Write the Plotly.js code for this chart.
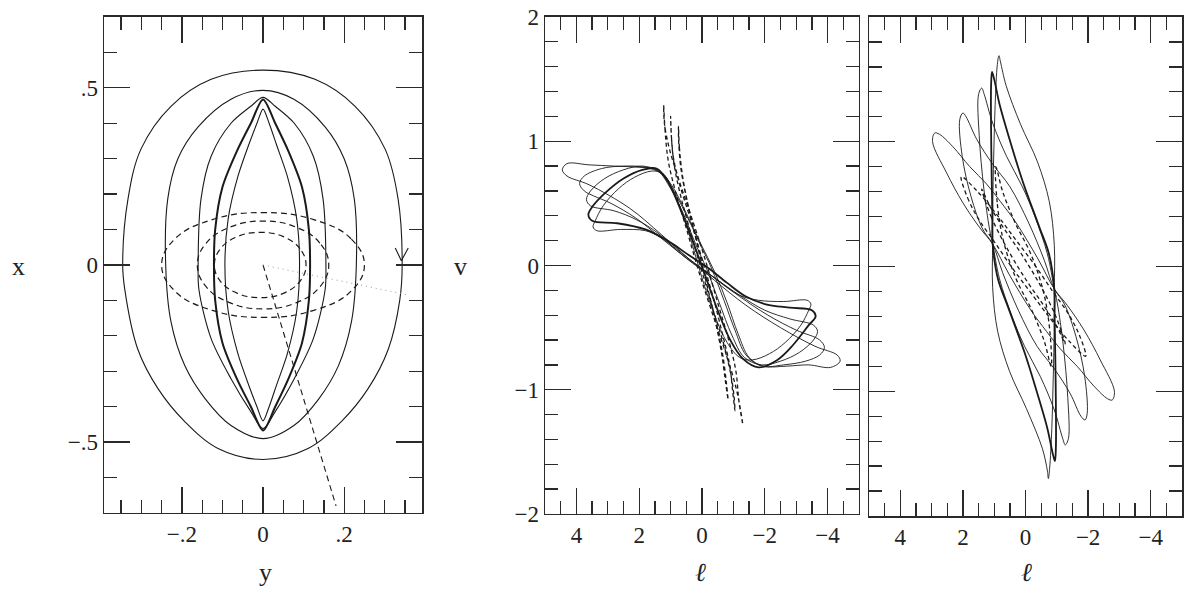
<!DOCTYPE html>
<html>
<head>
<meta charset="utf-8">
<script src="https://cdn.plot.ly/plotly-3.0.1.min.js"></script>
<style>html,body{margin:0;padding:0;background:#fff;}#chart{width:1200px;height:594px;}</style>
</head>
<body>
<div id="chart"></div>
<script>
// ---------- Left panel: orbits in the (y, x) plane ----------
const leftHTickVals = [-0.2, 0, 0.2];
const leftHTickText = ['\u2212.2', '0', '.2'];
const leftVTickVals = [-0.5, 0, 0.5];
const leftVTickText = ['\u2212.5', '0', '.5'];

// x1 orbits (solid)
const x1OuterH = [0, 0.128, 0.227, 0.301, 0.333, 0.343, 0.337, 0.309, 0.259, 0.193, 0.111, 0, -0.111, -0.193, -0.259, -0.309, -0.341, -0.346, -0.333, -0.301, -0.227, -0.128, 0];
const x1OuterV = [0.55, 0.524, 0.448, 0.327, 0.186, 0.0, -0.1, -0.237, -0.349, -0.442, -0.518, -0.549, -0.518, -0.442, -0.349, -0.237, -0.068, 0.0, 0.186, 0.327, 0.448, 0.524, 0.55];
const x1SecondH = [0, -0.079, -0.16, -0.21, -0.235, -0.24, -0.227, -0.193, -0.143, -0.079, 0, 0.076, 0.138, 0.186, 0.218, 0.23, 0.225, 0.2, 0.153, 0.076, 0];
const x1SecondV = [0.493, 0.468, 0.39, 0.30, 0.186, 0, -0.16, -0.284, -0.377, -0.453, -0.49, -0.453, -0.377, -0.284, -0.16, 0, 0.186, 0.30, 0.39, 0.468, 0.493];
const x1ThirdH = [0, -0.03, -0.079, -0.128, -0.153, -0.16, -0.158, -0.128, -0.079, -0.03, 0, 0.03, 0.077, 0.124, 0.153, 0.155, 0.148, 0.124, 0.077, 0.03, 0];
const x1ThirdV = [0.473, 0.448, 0.40, 0.307, 0.186, 0, -0.07, -0.208, -0.321, -0.414, -0.462, -0.414, -0.321, -0.208, -0.07, 0, 0.186, 0.307, 0.40, 0.448, 0.473];
const x1CuspH = [0, -0.03, -0.065, -0.1, -0.118, -0.121, -0.118, -0.1, -0.065, -0.03, 0, 0.03, 0.063, 0.096, 0.113, 0.116, 0.113, 0.096, 0.063, 0.03, 0];
const x1CuspV = [0.467, 0.40, 0.32, 0.22, 0.1, 0, -0.1, -0.22, -0.32, -0.40, -0.467, -0.40, -0.32, -0.22, -0.1, 0, 0.1, 0.22, 0.32, 0.40, 0.467];
const x1InnerH = [0, -0.015, -0.035, -0.062, -0.086, -0.094, -0.086, -0.062, -0.035, -0.015, 0, 0.015, 0.033, 0.06, 0.083, 0.09, 0.083, 0.06, 0.033, 0.015, 0];
const x1InnerV = [0.44, 0.40, 0.34, 0.25, 0.13, 0, -0.13, -0.25, -0.34, -0.40, -0.44, -0.40, -0.34, -0.25, -0.13, 0, 0.13, 0.25, 0.34, 0.40, 0.44];
const arrowH = [0.326, 0.341, 0.358];
const arrowV = [0.048, 0.012, 0.048];

// x2 orbits (dashed)
const x2OuterH = [0.25, 0.217, 0.125, 0, -0.125, -0.217, -0.25, -0.217, -0.125, 0, 0.125, 0.217, 0.25];
const x2OuterV = [0, 0.074, 0.128, 0.148, 0.128, 0.074, 0, -0.074, -0.128, -0.148, -0.128, -0.074, 0];
const x2MidH = [0.162, 0.140, 0.081, 0, -0.081, -0.140, -0.162, -0.140, -0.081, 0, 0.081, 0.140, 0.162];
const x2MidV = [0, 0.062, 0.107, 0.124, 0.107, 0.062, 0, -0.062, -0.107, -0.124, -0.107, -0.062, 0];
const x2InnerH = [0.106, 0.091, 0.05, -0.007, -0.063, -0.105, -0.12, -0.105, -0.063, -0.007, 0.05, 0.091, 0.106];
const x2InnerV = [0, 0.046, 0.08, 0.092, 0.08, 0.046, 0, -0.046, -0.08, -0.092, -0.08, -0.046, 0];

// lines of sight
const sightH = [0, 0.18];
const sightV = [0, -0.68];
const dottedH = [0, 0.36];
const dottedV = [0, -0.085];

// ---------- Middle & right panels: (l, v) ----------
const lTickVals = [4, 2, 0, -2, -4];
const lTickText = ['4', '2', '0', '\u22122', '\u22124'];
const vTickVals = [-2, -1, 0, 1, 2];
const vTickText = ['\u22122', '\u22121', '0', '1', '2'];

// middle panel: x1 orbits
const midAL = [4.3, 4.45, 4.3, 3.6, 2.8, 2.0, 1.4, 0.95, 0.5, 0.05, -0.4, -0.8, -1.15, -1.5, -1.95, -2.7, -3.4, -4.1, -4.4, -4.3, -3.6, -2.5, -1.4, -0.4, 0.4, 1.3, 2.3, 3.6, 4.3];
const midAV = [0.72, 0.77, 0.82, 0.81, 0.80, 0.79, 0.77, 0.64, 0.42, 0.18, -0.05, -0.3, -0.55, -0.74, -0.81, -0.81, -0.80, -0.82, -0.77, -0.72, -0.65, -0.5, -0.32, -0.12, 0.05, 0.25, 0.46, 0.65, 0.72];
const midBL = [3.75, 3.9, 3.75, 3.2, 2.5, 1.8, 1.3, 0.9, 0.45, 0.0, -0.3, -0.7, -1.05, -1.4, -1.9, -2.6, -3.3, -3.75, -3.9, -3.75, -3.0, -2.1, -1.2, -0.3, 0.5, 1.3, 2.1, 2.9, 3.45, 3.75];
const midBV = [0.6, 0.66, 0.72, 0.78, 0.80, 0.79, 0.74, 0.6, 0.38, 0.14, -0.02, -0.28, -0.52, -0.72, -0.81, -0.80, -0.77, -0.72, -0.66, -0.6, -0.52, -0.40, -0.25, -0.08, 0.06, 0.22, 0.38, 0.50, 0.56, 0.6];
const midCL = [3.55, 3.68, 3.55, 3.1, 2.5, 1.9, 1.4, 1.0, 0.6, 0.2, -0.15, -0.55, -0.95, -1.35, -1.9, -2.5, -3.1, -3.55, -3.68, -3.55, -2.8, -2.0, -1.2, -0.4, 0.2, 0.8, 1.4, 2.1, 2.8, 3.55];
const midCV = [0.48, 0.53, 0.6, 0.7, 0.77, 0.80, 0.76, 0.62, 0.42, 0.17, -0.03, -0.3, -0.56, -0.74, -0.80, -0.77, -0.7, -0.6, -0.53, -0.48, -0.43, -0.36, -0.24, -0.1, 0, 0.12, 0.26, 0.37, 0.44, 0.48];
const midDL = [3.5, 3.62, 3.5, 3.1, 2.5, 1.9, 1.45, 1.1, 0.7, 0.3, -0.1, -0.5, -0.9, -1.3, -1.8, -2.4, -2.9, -3.4, -3.62, -3.5, -2.8, -2.0, -1.4, -0.8, -0.2, 0.4, 1.1, 1.8, 2.7, 3.5];
const midDV = [0.36, 0.41, 0.47, 0.58, 0.70, 0.77, 0.78, 0.68, 0.46, 0.2, -0.08, -0.36, -0.6, -0.75, -0.82, -0.76, -0.64, -0.48, -0.41, -0.36, -0.34, -0.31, -0.25, -0.14, -0.02, 0.08, 0.2, 0.29, 0.34, 0.36];
const midEL = [3.35, 3.47, 3.4, 3.15, 2.65, 2.15, 1.6, 1.25, 0.95, 0.6, 0.3, 0.0, -0.4, -0.8, -1.2, -1.6, -2.15, -2.65, -3.15, -3.4, -3.47, -3.35, -2.6, -1.8, -1.2, -0.7, -0.2, 0.4, 0.9, 1.35, 1.8, 2.6, 3.35];
const midEV = [0.28, 0.31, 0.36, 0.48, 0.62, 0.71, 0.76, 0.74, 0.62, 0.4, 0.16, -0.1, -0.4, -0.62, -0.74, -0.76, -0.71, -0.62, -0.48, -0.36, -0.31, -0.28, -0.29, -0.28, -0.24, -0.16, -0.06, 0.05, 0.15, 0.23, 0.28, 0.29, 0.28];

// middle panel: x2 orbits (dashed)
const midD1L = [1.22, 1.18, 1.08, 0.85, 0.5, 0.1, -0.35, -0.75, -1.05, -1.22, -1.3, -1.18, -1.08, -0.85, -0.5, -0.1, 0.35, 0.75, 1.05, 1.2, 1.22];
const midD1V = [1.29, 1.1, 0.85, 0.6, 0.3, -0.05, -0.4, -0.7, -0.95, -1.15, -1.28, -1.1, -0.85, -0.6, -0.3, 0.05, 0.4, 0.7, 0.95, 1.15, 1.29];
const midD2L = [1.0, 0.97, 0.88, 0.68, 0.38, 0.0, -0.38, -0.7, -0.92, -1.02, -1.05, -0.98, -0.88, -0.66, -0.36, 0.02, 0.4, 0.72, 0.93, 1.0];
const midD2V = [1.2, 1.02, 0.8, 0.56, 0.28, -0.05, -0.38, -0.64, -0.88, -1.05, -1.17, -1.02, -0.8, -0.56, -0.26, 0.07, 0.4, 0.66, 0.9, 1.2];
const midD3L = [0.75, 0.72, 0.62, 0.42, 0.15, -0.15, -0.45, -0.66, -0.78, -0.83, -0.74, -0.62, -0.4, -0.12, 0.18, 0.46, 0.66, 0.74, 0.75];
const midD3V = [1.12, 0.95, 0.72, 0.46, 0.18, -0.15, -0.46, -0.72, -0.95, -1.08, -0.92, -0.7, -0.42, -0.12, 0.2, 0.5, 0.76, 0.98, 1.12];

// right panel: x1 orbits
const rightAL = [0.85, 0.90, 0.97, 1.01, 1.04, 1.05, 1.05, 0.89, 0.51, -0.03, -0.54, -0.7, -0.73, -0.77, -0.84, -0.88, -0.91, -0.92, -0.92, -0.76, -0.38, 0.16, 0.62, 0.8, 0.85];
const rightAV = [1.69, 1.62, 1.3, 0.95, 0.6, 0.18, -0.17, -0.52, -0.84, -1.14, -1.46, -1.64, -1.70, -1.62, -1.3, -0.95, -0.6, -0.18, 0.17, 0.52, 0.84, 1.14, 1.45, 1.64, 1.69];
const rightBL = [1.07, 1.1, 1.1, 1.08, 1.06, 1.05, 0.88, 0.58, 0.03, -0.38, -0.70, -0.87, -0.94, -0.97, -0.97, -0.95, -0.93, -0.92, -0.75, -0.45, 0.1, 0.51, 0.83, 1.0, 1.07];
const rightBV = [1.56, 1.45, 1.1, 0.7, 0.4, 0.18, -0.1, -0.31, -0.69, -1.02, -1.3, -1.5, -1.56, -1.45, -1.1, -0.7, -0.4, -0.18, 0.1, 0.31, 0.69, 1.02, 1.3, 1.5, 1.56];
const rightCL = [1.4, 1.5, 1.48, 1.33, 1.15, 1.05, 0.83, 0.43, 0.03, -0.47, -0.92, -1.19, -1.27, -1.37, -1.35, -1.2, -1.02, -0.92, -0.7, -0.3, 0.1, 0.6, 1.05, 1.32, 1.4];
const rightCV = [1.43, 1.38, 1.05, 0.62, 0.3, 0.18, -0.1, -0.4, -0.64, -0.88, -1.15, -1.38, -1.43, -1.38, -1.05, -0.62, -0.3, -0.18, 0.1, 0.4, 0.64, 0.88, 1.15, 1.38, 1.43];
const rightDL = [2.0, 2.1, 2.02, 1.74, 1.37, 1.05, 0.73, 0.23, -0.37, -0.92, -1.43, -1.77, -1.9, -1.97, -1.89, -1.61, -1.24, -0.92, -0.6, -0.1, 0.5, 1.05, 1.56, 1.9, 2.0];
const rightDV = [1.23, 1.18, 0.88, 0.56, 0.3, 0.18, -0.05, -0.35, -0.64, -0.82, -1.02, -1.2, -1.23, -1.18, -0.88, -0.56, -0.3, -0.18, 0.05, 0.35, 0.64, 0.82, 1.02, 1.2, 1.23];
const rightEL = [2.9, 2.97, 2.52, 2.0, 1.46, 1.05, 0.53, -0.17, -0.67, -1.11, -1.65, -2.19, -2.62, -2.77, -2.84, -2.39, -1.87, -1.33, -0.92, -0.4, 0.3, 0.8, 1.24, 1.78, 2.32, 2.75, 2.9];
const rightEV = [1.07, 1.0, 0.75, 0.51, 0.31, 0.18, -0.06, -0.35, -0.52, -0.66, -0.8, -0.96, -1.06, -1.07, -1.0, -0.75, -0.51, -0.31, -0.18, 0.06, 0.35, 0.52, 0.66, 0.8, 0.96, 1.06, 1.07];

// right panel: x2 orbits (dashed)
const rightD1L = [2.05, 1.85, 1.5, 1.0, 0.4, -0.2, -0.8, -1.4, -1.92, -1.72, -1.37, -0.87, -0.27, 0.33, 0.93, 1.53, 2.05];
const rightD1V = [0.72, 0.55, 0.38, 0.2, -0.02, -0.22, -0.42, -0.6, -0.72, -0.55, -0.38, -0.2, 0.02, 0.22, 0.42, 0.6, 0.72];
const rightD2L = [0.95, 0.9, 0.7, 0.3, -0.2, -0.6, -0.82, -0.77, -0.57, -0.17, 0.33, 0.73, 0.95];
const rightD2V = [0.8, 0.5, 0.2, -0.1, -0.35, -0.6, -0.8, -0.5, -0.2, 0.1, 0.35, 0.6, 0.8];
const rightD3L = [1.4, 1.1, 0.6, 0.0, -0.6, -1.0, -1.27, -0.97, -0.47, 0.13, 0.73, 1.13, 1.4];
const rightD3V = [0.62, 0.4, 0.15, -0.1, -0.32, -0.48, -0.62, -0.4, -0.15, 0.1, 0.32, 0.48, 0.62];

// ---------- build traces ----------
const INK = '#1a1a1a';
function curve(x, y, ax, width, dash, smooth, color) {
  return {
    type: 'scatter', mode: 'lines', x: x, y: y,
    xaxis: ax[0], yaxis: ax[1], hoverinfo: 'skip',
    line: {color: color || INK, width: width, dash: dash || 'solid',
           shape: smooth ? 'spline' : 'linear', smoothing: smooth || 0}
  };
}
const L = ['x', 'y'], M = ['x2', 'y2'], R = ['x3', 'y3'];
const DASH_L = '6px,4px', DASH_S = '4px,3px';

const traces = [
  curve(x1OuterH, x1OuterV, L, 1.1, null, 1),
  curve(x1SecondH, x1SecondV, L, 1.1, null, 1),
  curve(x1ThirdH, x1ThirdV, L, 1.1, null, 0.9),
  curve(x1CuspH, x1CuspV, L, 2.0, null, 0.8),
  curve(x1InnerH, x1InnerV, L, 1.1, null, 0.8),
  curve(arrowH, arrowV, L, 1.1, null, 0),
  curve(x2OuterH, x2OuterV, L, 1.2, DASH_L, 1.2),
  curve(x2MidH, x2MidV, L, 1.2, DASH_L, 1.2),
  curve(x2InnerH, x2InnerV, L, 1.2, DASH_L, 1.2),
  curve(sightH, sightV, L, 1.1, DASH_L, 0),
  curve(dottedH, dottedV, L, 1.0, '1px,4px', 0, '#9a9a9a'),

  curve(midAL, midAV, M, 0.9, null, 1),
  curve(midBL, midBV, M, 0.9, null, 1),
  curve(midCL, midCV, M, 0.9, null, 1),
  curve(midDL, midDV, M, 1.8, null, 1),
  curve(midEL, midEV, M, 0.9, null, 1),
  curve(midD1L, midD1V, M, 1.3, DASH_S, 1),
  curve(midD2L, midD2V, M, 1.3, DASH_S, 1),
  curve(midD3L, midD3V, M, 1.3, DASH_S, 1),

  curve(rightAL, rightAV, R, 0.9, null, 1),
  curve(rightBL, rightBV, R, 1.8, null, 1),
  curve(rightCL, rightCV, R, 0.9, null, 1),
  curve(rightDL, rightDV, R, 0.9, null, 1),
  curve(rightEL, rightEV, R, 0.9, null, 1),
  curve(rightD1L, rightD1V, R, 1.3, DASH_S, 1),
  curve(rightD2L, rightD2V, R, 1.3, DASH_S, 1),
  curve(rightD3L, rightD3V, R, 1.3, DASH_S, 1)
];

// ---------- layout ----------
const FONT = 'Liberation Serif, DejaVu Serif, serif';
function axis(extra, minorDtick) {
  return Object.assign({
    showline: true, linecolor: '#2a2a2a', linewidth: 1.5, mirror: 'ticks',
    ticks: 'inside', ticklen: 26, tickwidth: 1.3, tickcolor: '#2a2a2a',
    zeroline: false, showgrid: false, fixedrange: true,
    tickfont: {family: FONT, size: 23, color: '#222'},
    minor: {ticks: 'inside', ticklen: 13, tickwidth: 1.3, tickcolor: '#2a2a2a',
            showgrid: false, tickmode: 'linear', tick0: 0, dtick: minorDtick}
  }, extra);
}

const layout = {
  width: 1200, height: 594,
  margin: {l: 0, r: 0, t: 0, b: 0},
  paper_bgcolor: '#fff', plot_bgcolor: '#fff',
  showlegend: false,
  xaxis: axis({domain: [0.0867, 0.3517], range: [-0.392, 0.392], anchor: 'y',
               tickmode: 'array', tickvals: leftHTickVals, ticktext: leftHTickText}, 0.05),
  yaxis: axis({domain: [0.1364, 0.9714], range: [-0.7, 0.7], anchor: 'x',
               tickmode: 'array', tickvals: leftVTickVals, ticktext: leftVTickText}, 0.1),
  xaxis2: axis({domain: [0.4542, 0.7158], range: [5, -5], anchor: 'y2',
                tickmode: 'array', tickvals: lTickVals, ticktext: lTickText}, 0.5),
  yaxis2: axis({domain: [0.1347, 0.9714], range: [-2, 2], anchor: 'x2',
                tickmode: 'array', tickvals: vTickVals, ticktext: vTickText}, 0.2),
  xaxis3: axis({domain: [0.7242, 0.985], range: [5, -5], anchor: 'y3',
                tickmode: 'array', tickvals: lTickVals, ticktext: lTickText}, 0.5),
  yaxis3: axis({domain: [0.1313, 0.9714], range: [-2, 2], anchor: 'x3',
                tickmode: 'array', tickvals: vTickVals, ticktext: vTickText,
                showticklabels: false}, 0.2),
  annotations: [
    {text: 'x', x: 18 / 1200, y: 1 - 266 / 594},
    {text: 'y', x: 265 / 1200, y: 1 - 572 / 594},
    {text: 'v', x: 460 / 1200, y: 1 - 266 / 594},
    {text: '<i>\u2113</i>', x: 701 / 1200, y: 1 - 572 / 594},
    {text: '<i>\u2113</i>', x: 1026 / 1200, y: 1 - 572 / 594}
  ].map(a => Object.assign({xref: 'paper', yref: 'paper', showarrow: false,
    xanchor: 'center', yanchor: 'middle', font: {family: FONT, size: 26, color: '#222'}}, a))
};

Plotly.newPlot('chart', traces, layout, {staticPlot: true, displayModeBar: false});
</script>
</body>
</html>
